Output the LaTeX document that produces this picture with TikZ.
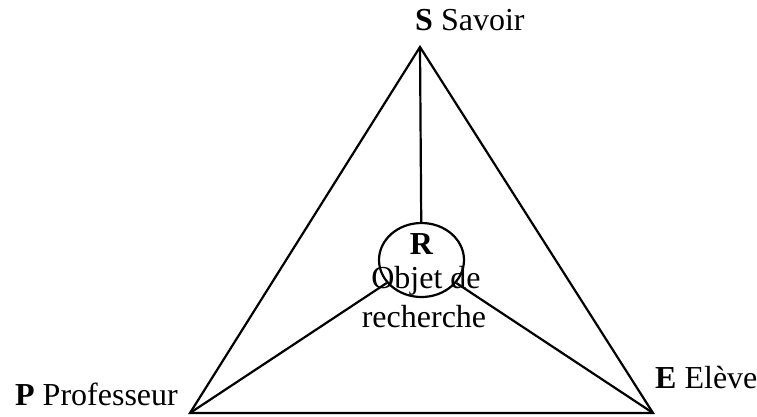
\documentclass[tikz,border=0pt]{standalone}
\usepackage{fontspec}
\setmainfont{Liberation Serif}
\usetikzlibrary{shapes.geometric}

\begin{document}
\begin{tikzpicture}[
    x=1pt, y=-1pt,
    edge/.style={line width=2.2pt},
    vertexlabel/.style={inner sep=0pt, font=\fontsize{32}{37}\selectfont},
    centrelabel/.style={inner sep=0pt, font=\fontsize{32}{37}\selectfont, anchor=base}
]
\useasboundingbox (0,0) rectangle (757,416);

\coordinate (S) at (420,47);
\coordinate (P) at (190,413);
\coordinate (E) at (653,413);
\node[ellipse, draw, edge, minimum width=85pt, minimum height=74pt, inner sep=0pt]
    (R) at (421.5,260) {};

\draw[edge, line join=miter] (P) -- (S) -- (E) -- cycle;
\draw[edge] (S) -- (R);
\draw[edge] (P) -- (R);
\draw[edge] (E) -- (R);

\node[vertexlabel, anchor=base west] (slabel) at (415,30) {\textbf{S} Savoir};
\node[vertexlabel, anchor=base west] (plabel) at (15,405) {\textbf{P} Professeur};
\node[vertexlabel, anchor=base west] (elabel) at (655,388) {\textbf{E} Elève};

\node[centrelabel] (rname) at (421.5,254) {\textbf{R}};
\node[centrelabel] (rtext1) at (426,288) {Objet de};
\node[centrelabel] (rtext2) at (424,327) {recherche};
\end{tikzpicture}
\end{document}
